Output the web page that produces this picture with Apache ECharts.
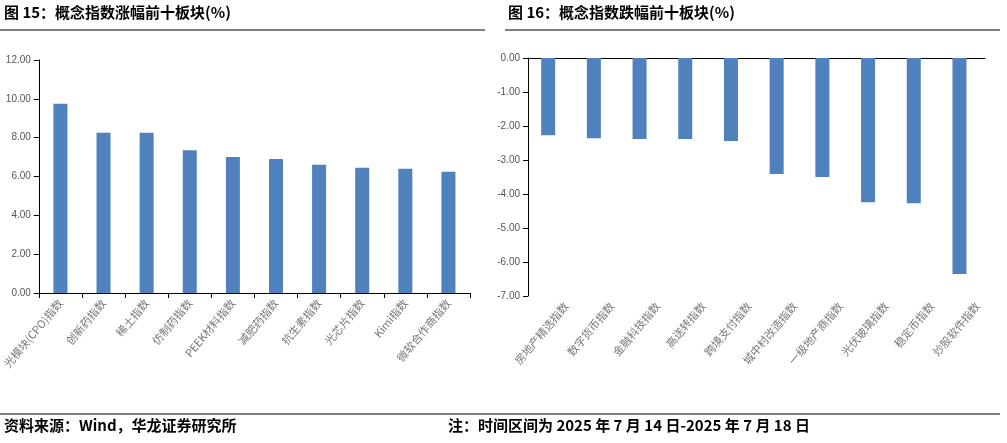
<!DOCTYPE html><html><head><meta charset="utf-8"><script src="https://cdn.jsdelivr.net/npm/echarts@6/dist/echarts.min.js"></script></head><body style="margin:0"><div id="c" style="width:1007px;height:443px"></div><script>
const catsUp=['光模块(CPO)指数','创新药指数','稀土指数','仿制药指数','PEEK材料指数','减肥药指数','抗生素指数','光芯片指数','Kimi指数','微软合作商指数'];
const valsUp=[9.75,8.25,8.25,7.35,7.0,6.9,6.6,6.45,6.4,6.25];
const catsDown=['房地产精选指数','数字货币指数','金融科技指数','高送转指数','跨境支付指数','城中村改造指数','一级地产商指数','光伏玻璃指数','稳定币指数','炒股软件指数'];
const valsDown=[-2.27,-2.36,-2.38,-2.38,-2.44,-3.41,-3.5,-4.24,-4.27,-6.35];
const c=echarts.init(document.getElementById('c'));
const lab={color:'#777',fontSize:11,fontFamily:'Noto Sans CJK SC',rotate:50,interval:0};
const ylab={color:'#555',fontSize:10,fontFamily:'Liberation Sans Narrow, Liberation Sans',formatter:v=>v.toFixed(2)};
const line={lineStyle:{color:'#000'}};
const T={fontFamily:'Noto Sans CJK SC',fontWeight:'bold',fontSize:15,fill:'#000'};
c.setOption({animation:false,
grid:[{left:37,top:60,width:433,height:233},{left:528,top:58,width:457,height:238}],
xAxis:[{gridIndex:0,type:'category',data:catsUp,axisLabel:lab,axisLine:line,axisTick:{show:true,lineStyle:{color:'#000'}}},
{gridIndex:1,type:'category',data:catsDown,position:'top',axisLabel:Object.assign({},lab,{show:false}),axisLine:line,axisTick:{show:false}}],
yAxis:[{gridIndex:0,min:0,max:12,interval:2,axisLabel:ylab,axisLine:{show:true,lineStyle:{color:'#000'}},axisTick:{show:true,lineStyle:{color:'#000'}},splitLine:{show:false}},
{gridIndex:1,min:-7,max:0,interval:1,axisLabel:ylab,axisLine:{show:true,lineStyle:{color:'#000'}},axisTick:{show:true,lineStyle:{color:'#000'}},splitLine:{show:false}}],
series:[{type:'bar',data:valsUp,barWidth:14,itemStyle:{color:'#4f81bd'}},
{type:'bar',xAxisIndex:1,yAxisIndex:1,data:valsDown,barWidth:14,itemStyle:{color:'#4f81bd'}},
{type:'bar',xAxisIndex:1,yAxisIndex:1,data:valsDown.map(()=>-7),barGap:'-100%',itemStyle:{color:'transparent'},silent:true,
 label:{show:true,position:'insideBottom',formatter:p=>catsDown[p.dataIndex],color:'#777',fontSize:11,fontFamily:'Noto Sans CJK SC',rotate:50,align:'right',verticalAlign:'middle',offset:[0,20]}}],
graphic:[
{type:'text',left:4,top:5,style:Object.assign({text:'图 15：概念指数涨幅前十板块(%)'},T)},
{type:'text',left:508,top:5,style:Object.assign({text:'图 16：概念指数跌幅前十板块(%)'},T)},
{type:'line',shape:{x1:0,y1:30,x2:485,y2:30},style:{stroke:'#000',lineWidth:1}},
{type:'line',shape:{x1:505,y1:30,x2:1000,y2:30},style:{stroke:'#000',lineWidth:1}},
{type:'line',shape:{x1:0,y1:414,x2:1000,y2:414},style:{stroke:'#000',lineWidth:1}},
{type:'text',left:4,top:418,style:Object.assign({text:'资料来源：Wind，华龙证券研究所'},T)},
{type:'text',left:448,top:418,style:Object.assign({text:'注：时间区间为 2025 年 7 月 14 日-2025 年 7 月 18 日'},T)}]});
</script></body></html>
